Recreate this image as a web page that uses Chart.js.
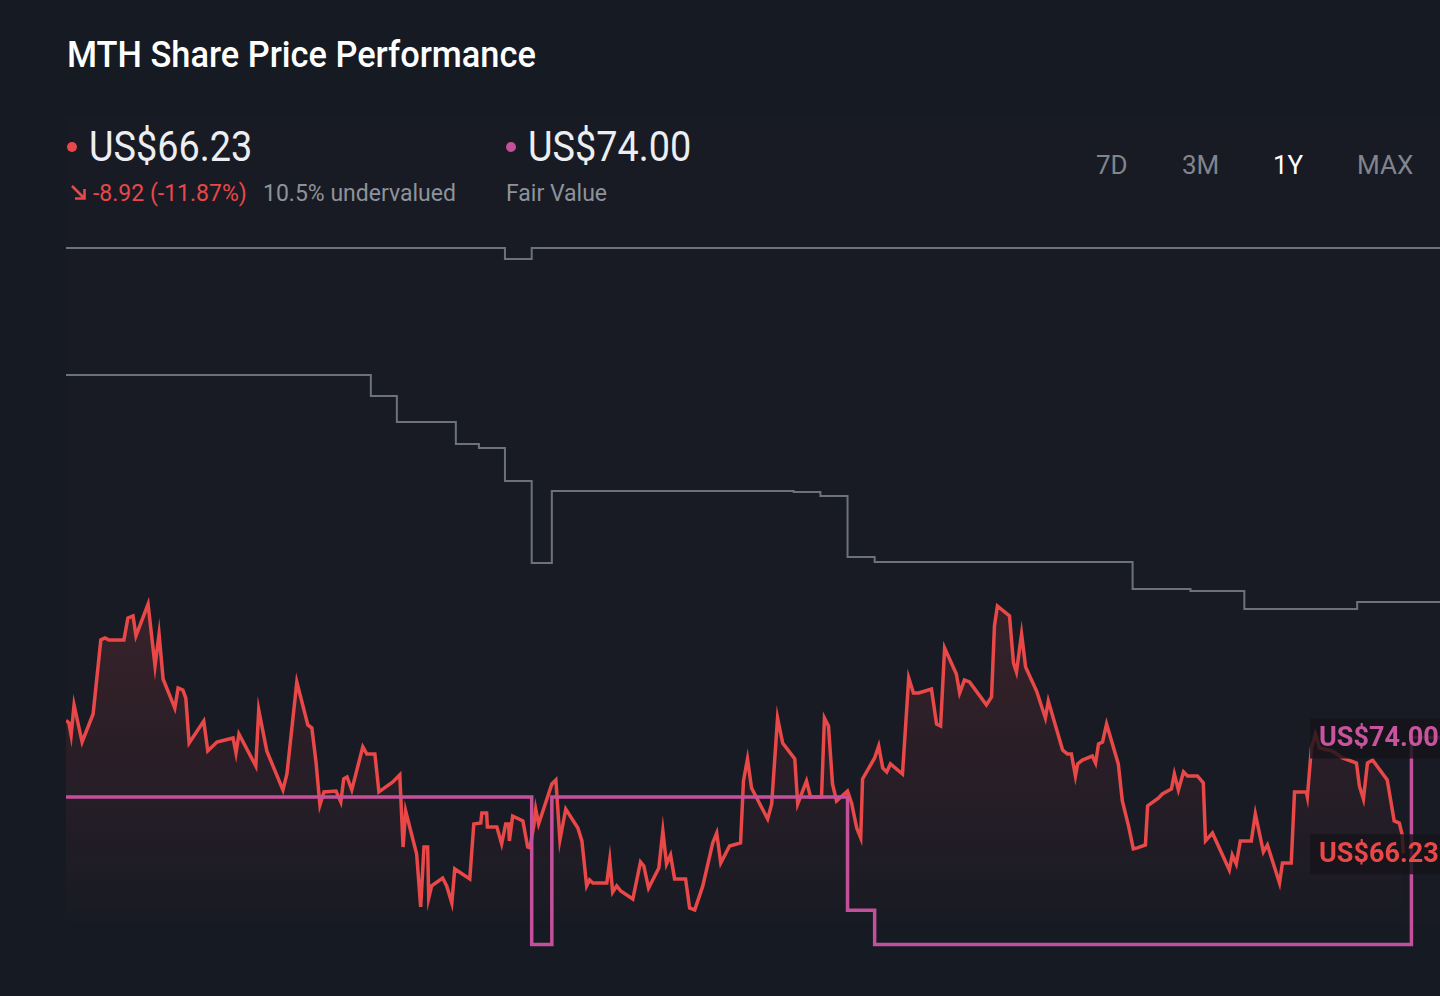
<!DOCTYPE html>
<html>
<head>
<meta charset="utf-8">
<title>MTH Share Price Performance</title>
<script src="https://cdn.jsdelivr.net/npm/chart.js@4.4.1/dist/chart.umd.min.js"></script>
<style>
  body { margin: 0; width: 1440px; height: 996px; overflow: hidden; background: #151a23; font-family: Roboto, "Noto Sans", sans-serif; position: relative; }
  .abs { position: absolute; white-space: nowrap; }
  #title { left: 67px; top: 34px; font-size: 36px; font-weight: 500; color: #ffffff; transform: scaleX(0.955); transform-origin: left top; }
  #panel { left: 66px; top: 115px; width: 1374px; height: 810px; background: #181b24; }
  .dot { width: 10px; height: 10px; border-radius: 50%; }
  .big { font-size: 43px; color: #eceef1; top: 121px; transform: scaleX(0.88); transform-origin: left top; }
  .sub { font-size: 23px; top: 180px; }
  .grey { color: #8e929a; }
  .red { color: #e84848; }
  .btn { top: 150px; font-size: 26px; color: #80858e; }
  #wrap { left: 66px; top: 231px; width: 1374px; height: 730px; }
</style>
</head>
<body>
<div id="panel" class="abs"></div>
<div id="title" class="abs">MTH Share Price Performance</div>

<div class="abs dot" style="left:67px;top:142px;background:#e84848"></div>
<div class="abs big" style="left:89px">US$66.23</div>
<svg class="abs" style="left:70px;top:184px" width="17" height="17" viewBox="0 0 17 17">
  <path d="M2 2 L14 14 M5 14.5 L14.5 14.5 L14.5 5" fill="none" stroke="#e84848" stroke-width="2.6"/>
</svg>
<div class="abs sub red" style="left:93px">-8.92 (-11.87%)</div>
<div class="abs sub grey" style="left:263px">10.5% undervalued</div>

<div class="abs dot" style="left:506px;top:142px;background:#c4509a"></div>
<div class="abs big" style="left:528px">US$74.00</div>
<div class="abs sub grey" style="left:506px">Fair Value</div>

<div class="abs btn" style="left:1096px">7D</div>
<div class="abs btn" style="left:1182px">3M</div>
<div class="abs btn" style="left:1273px;color:#ffffff">1Y</div>
<div class="abs btn" style="left:1357px">MAX</div>

<div id="wrap" class="abs"><canvas id="chart"></canvas></div>

<script>
// days since start of the 1Y window
const priceDays = [0, 0.8, 1.4, 2.2, 4.4, 7.4, 9.5, 10.6, 11.7, 15.8, 16.9, 18.3, 19.1, 22.4, 24.3, 25.4, 26.5, 29.7, 30.6, 31.9,
  32.7, 33.6, 37.6, 38.7, 41.2, 45.6, 46.4, 47.2, 51.8, 52.6, 54.8, 59.2, 60.3, 63.0, 66.0, 67.1, 68.2, 69.3, 70.4, 73.7,
  75.0, 75.8, 76.7, 78.0, 81.0, 82.1, 84.3, 85.4, 89.2, 91.1, 92.0, 92.7, 95.7, 96.8, 97.7, 98.7, 99.0, 99.8, 102.8, 103.9,
  105.3, 106.1, 110.2, 111.3, 113.2, 113.5, 114.8, 115.0, 117.6, 118.9, 120.0, 120.8, 121.0, 121.9, 124.7, 126.0, 126.6, 127.7, 128.2, 129.0,
  132.6, 133.7, 134.8, 136.4, 139.7, 140.8, 142.1, 142.9, 143.8, 147.6, 148.4, 149.2, 150.3, 151.4, 154.7, 156.8, 157.7, 159.0, 161.8, 162.9,
  163.9, 165.0, 166.1, 169.1, 170.2, 171.6, 173.8, 176.5, 177.6, 178.7, 181.1, 184.1, 184.9, 186.0, 187.1, 191.5, 192.6, 194.2, 195.6, 198.9,
  199.7, 202.1, 203.2, 206.2, 207.0, 208.1, 209.2, 210.3, 213.3, 214.4, 215.8, 216.9, 217.4, 220.7, 221.8, 222.9, 224.0, 225.0, 228.3, 230.0,
  231.3, 232.7, 236.2, 237.6, 238.7, 239.8, 243.0, 243.9, 245.2, 246.6, 251.2, 252.6, 253.4, 254.2, 257.5, 258.6, 259.4, 260.8, 261.9, 264.9,
  267.3, 268.1, 272.0, 273.3, 274.4, 275.5, 276.1, 277.4, 280.1, 281.0, 281.8, 282.9, 284.0, 287.2, 288.3, 290.0, 291.3, 292.4, 294.6, 295.2,
  298.2, 299.2, 301.7, 302.5, 303.6, 305.0, 306.1, 308.8, 310.4, 311.0, 312.9, 317.5, 318.3, 319.4, 320.5, 323.5, 324.6, 326.8, 327.9, 331.2,
  332.0, 334.4, 335.3, 338.5, 338.8, 339.9, 341.0, 342.1, 345.6, 348.4, 352.2, 353.0, 354.1, 355.2, 356.6, 358.4, 360.6, 362.5, 363.9, 364.7, 365];
const priceValues = [75.15, 74.98, 74.17, 76.19, 73.70, 75.58, 80.55, 80.68, 80.55, 80.55, 82.02, 82.16, 80.82, 82.96, 78.80, 80.95, 77.93, 75.98, 77.33, 77.19,
  76.65, 73.63, 75.11, 73.10, 73.70, 73.97, 72.96, 74.24, 72.09, 75.85, 73.10, 70.48, 71.55, 77.73, 74.84, 74.64, 72.43, 69.47, 70.35, 70.41,
  69.67, 71.22, 71.35, 70.48, 73.37, 72.90, 72.90, 70.35, 71.02, 71.49, 66.65, 69.07, 66.18, 62.63, 66.65, 66.65, 63.23, 64.04, 64.57, 64.04,
  62.90, 65.18, 64.51, 68.20, 68.26, 68.94, 68.94, 68.00, 68.00, 66.86, 68.20, 68.20, 67.06, 68.73, 68.40, 66.65, 66.59, 68.13, 69.20, 68.20,
  70.88, 71.15, 67.12, 69.20, 67.93, 67.06, 64.04, 64.44, 64.24, 64.24, 65.78, 63.63, 64.04, 63.70, 63.16, 65.65, 65.38, 63.90, 65.24, 67.73,
  65.51, 66.12, 64.51, 64.51, 62.56, 62.43, 64.04, 66.92, 67.59, 65.58, 66.72, 66.92, 71.08, 72.56, 70.61, 68.53, 69.54, 75.31, 73.63, 72.56,
  69.54, 71.08, 70.01, 70.01, 75.31, 74.78, 70.88, 69.74, 70.41, 69.61, 67.93, 67.26, 71.22, 72.63, 73.43, 71.96, 71.69, 72.23, 71.55, 78.00,
  76.99, 76.99, 77.26, 74.91, 74.78, 80.01, 78.27, 76.99, 77.86, 77.73, 76.19, 76.72, 81.49, 82.83, 82.16, 79.00, 78.40, 80.95, 78.74, 77.12,
  75.31, 76.45, 73.16, 72.90, 72.90, 71.42, 72.23, 72.49, 72.76, 72.29, 73.57, 73.70, 74.91, 72.23, 69.74, 68.06, 66.52, 66.59, 66.79, 69.41,
  69.94, 70.21, 70.55, 71.55, 70.48, 71.69, 71.42, 71.42, 70.95, 67.06, 67.59, 65.11, 66.12, 65.51, 67.06, 67.06, 68.87, 66.32, 66.79, 64.24,
  65.58, 65.58, 70.35, 70.35, 70.01, 73.30, 74.24, 73.30, 73.10, 72.63, 72.29, 70.75, 69.88, 72.29, 72.49, 71.89, 71.15, 68.40, 68.26, 67.46, 66.23];

const fairDays = [0, 127.1, 132.6, 213.3, 220.7, 367.2, 375];
const fairValues = [70.0, 60.1, 70.0, 62.4, 60.1, 74.0, 74.0];

const highDays = [0, 119.8, 127.1, 375];
const highValues = [106.86, 106.12, 106.86, 106.86];

const targetDays = [0, 83.2, 90.3, 106.4, 112.7, 119.8, 127.1, 132.6, 198.6, 205.9, 213.3, 220.7, 291.1, 306.9, 321.6, 352.4, 375];
const targetValues = [98.33, 96.92, 95.18, 93.70, 93.43, 91.22, 85.71, 90.55, 90.48, 90.21, 86.12, 85.78, 83.97, 83.84, 82.63, 83.10, 83.10];

const lastPrice = 66.23;
const lastFair = 74.00;

function toPoints(xs, ys) {
  return xs.map((x, i) => ({x: x, y: ys[i]}));
}

function priceFill(context) {
  const area = context.chart.chartArea;
  if (!area) return 'rgba(232,72,72,0.1)';
  const g = context.chart.ctx.createLinearGradient(0, area.top + 370, 0, area.bottom - 30);
  g.addColorStop(0, 'rgba(232,72,72,0.16)');
  g.addColorStop(1, 'rgba(232,72,72,0.0)');
  return g;
}

// boxed value tags at the right edge
const endLabels = {
  id: 'endLabels',
  afterDatasetsDraw(chart) {
    const ctx = chart.ctx;
    const ys = chart.scales.y;
    const tags = [[lastFair, '#c8549e'], [lastPrice, '#e84848']];
    ctx.save();
    tags.forEach(([v, col]) => {
      const y = ys.getPixelForValue(v);
      ctx.fillStyle = 'rgba(22,19,26,0.82)';
      ctx.fillRect(1244, y - 19, 140, 40);
      ctx.fillStyle = col;
      ctx.font = 'bold 27px Roboto';
      ctx.textBaseline = 'middle';
      ctx.fillText('US$' + v.toFixed(2), 1253, y + 2);
    });
    ctx.restore();
  }
};

const chart = new Chart(document.getElementById('chart'), {
  type: 'line',
  data: {
    datasets: [
      {data: toPoints(fairDays, fairValues), borderColor: '#c4509a', borderWidth: 3.5, stepped: 'before', pointRadius: 0, order: 0},
      {data: toPoints(priceDays, priceValues), borderColor: '#e84848', borderWidth: 3.5, pointRadius: 0, tension: 0,
        fill: 'start', backgroundColor: priceFill, order: 1},
      {data: toPoints(targetDays, targetValues), borderColor: '#6c717b', borderWidth: 2, stepped: 'before', pointRadius: 0, order: 2},
      {data: toPoints(highDays, highValues), borderColor: '#6c717b', borderWidth: 2, stepped: 'before', pointRadius: 0, order: 3}
    ]
  },
  options: {
    responsive: true,
    maintainAspectRatio: false,
    animation: false,
    layout: {padding: 0},
    plugins: {legend: {display: false}, tooltip: {enabled: false}},
    scales: {
      x: {type: 'linear', min: 0, max: 375, display: false},
      y: {min: 59, max: 108, display: false}
    }
  },
  plugins: [endLabels]
});
</script>
</body>
</html>
